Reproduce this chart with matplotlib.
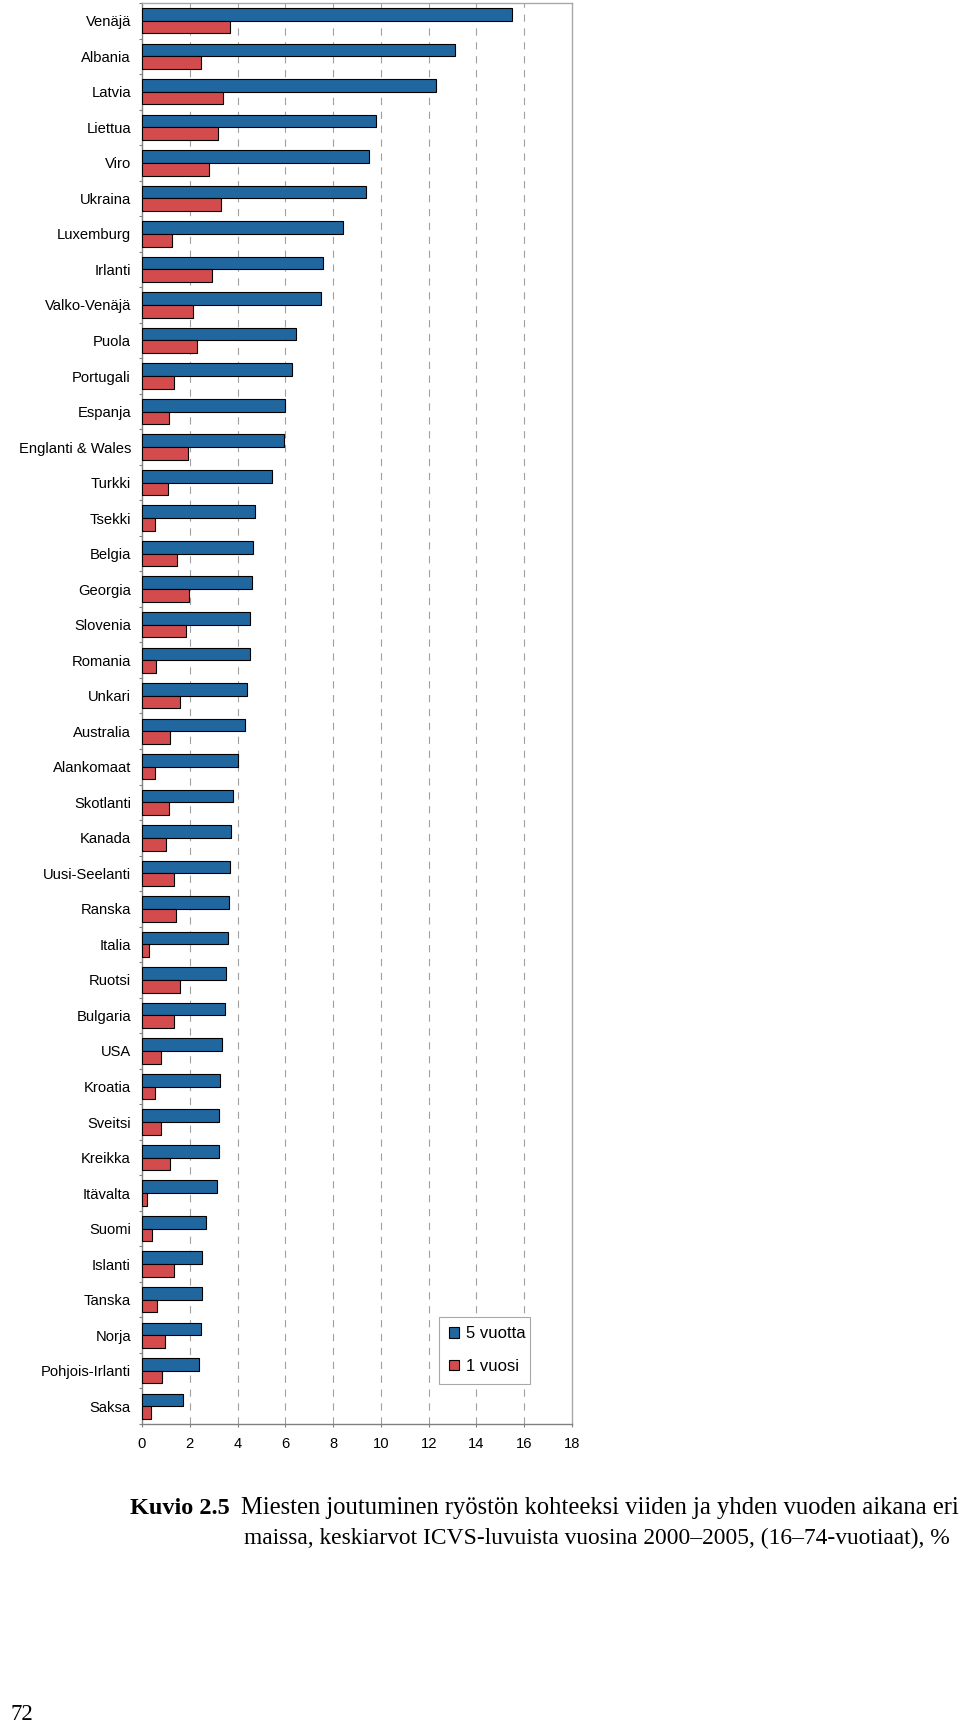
import matplotlib
matplotlib.use("Agg")
import matplotlib.pyplot as plt
import numpy as np
from matplotlib.patches import Patch

countries = ["Venäjä", "Albania", "Latvia", "Liettua", "Viro", "Ukraina", "Luxemburg",
             "Irlanti", "Valko-Venäjä", "Puola", "Portugali", "Espanja", "Englanti & Wales",
             "Turkki", "Tsekki", "Belgia", "Georgia", "Slovenia", "Romania", "Unkari",
             "Australia", "Alankomaat", "Skotlanti", "Kanada", "Uusi-Seelanti", "Ranska",
             "Italia", "Ruotsi", "Bulgaria", "USA", "Kroatia", "Sveitsi", "Kreikka",
             "Itävalta", "Suomi", "Islanti", "Tanska", "Norja", "Pohjois-Irlanti", "Saksa"]
five_years = [15.50, 13.10, 12.31, 9.80, 9.50, 9.36, 8.40, 7.56, 7.48, 6.46,
              6.26, 5.98, 5.95, 5.44, 4.74, 4.66, 4.60, 4.52, 4.52, 4.41,
              4.32, 4.01, 3.83, 3.73, 3.67, 3.64, 3.59, 3.53, 3.49, 3.36,
              3.27, 3.22, 3.22, 3.13, 2.66, 2.52, 2.52, 2.48, 2.40, 1.73]
one_year = [3.67, 2.48, 3.41, 3.18, 2.80, 3.30, 1.27, 2.94, 2.14, 2.29,
            1.32, 1.13, 1.94, 1.10, 0.54, 1.46, 1.97, 1.83, 0.59, 1.60,
            1.18, 0.54, 1.13, 0.99, 1.32, 1.43, 0.31, 1.60, 1.36, 0.81,
            0.54, 0.81, 1.18, 0.22, 0.43, 1.36, 0.62, 0.96, 0.85, 0.39]
series_labels = ["5 vuotta", "1 vuosi"]
x_ticks = [0, 2, 4, 6, 8, 10, 12, 14, 16, 18]
caption_bold = "Kuvio 2.5"
caption_line1 = "Miesten joutuminen ryöstön kohteeksi viiden ja yhden vuoden aikana eri"
caption_line2 = "maissa, keskiarvot ICVS-luvuista vuosina 2000–2005, (16–74-vuotiaat), %"
page_number = "72"

BLUE = "#21679f"
RED = "#d34b4c"

sans = ["Liberation Sans", "DejaVu Sans"]
serif = ["Liberation Serif", "DejaVu Serif"]
fs = 10.6

W, H = 960, 1726
fig = plt.figure(figsize=(W / 100, H / 100), dpi=100)
ax_left, ax_right, ax_top, ax_bottom = 142.0, 572.0, 3.0, 1424.0
ax = fig.add_axes([ax_left / W, 1 - ax_bottom / H, (ax_right - ax_left) / W, (ax_bottom - ax_top) / H])

n = len(countries)
y = np.arange(n)
bh = 0.357
ax.barh(y - bh / 2, five_years, height=bh, color=BLUE, edgecolor="black", linewidth=0.8, zorder=3)
ax.barh(y + bh / 2, one_year, height=bh, color=RED, edgecolor="black", linewidth=0.8, zorder=3)

ax.set_ylim(n - 0.5, -0.5)
ax.set_xlim(0, 18)
ax.set_xticks(x_ticks)
ax.set_xticklabels([str(t) for t in x_ticks], family=sans, fontsize=fs)
ax.set_yticks(y)
ax.set_yticklabels(countries, family=sans, fontsize=fs)
ax.set_yticks(np.arange(n + 1) - 0.5, minor=True)
ax.tick_params(axis="y", which="major", length=0, pad=8)
ax.tick_params(axis="y", which="minor", length=2.4, width=0.8, color="#808080", direction="out")
ax.tick_params(axis="x", which="major", length=2.4, width=0.8, color="#808080", direction="out", pad=7)

for t in x_ticks[1:-1]:
    ax.axvline(t, color="#a0a0a0", linewidth=0.8, linestyle=(0, (6.5, 6)), zorder=1)

for side in ["top", "right"]:
    ax.spines[side].set_color("#a8a8a8")
    ax.spines[side].set_linewidth(1.0)
for side in ["left", "bottom"]:
    ax.spines[side].set_color("#808080")
    ax.spines[side].set_linewidth(1.0)

handles = [Patch(facecolor=BLUE, edgecolor="black", linewidth=0.8),
           Patch(facecolor=RED, edgecolor="black", linewidth=0.8)]
lx0, lx1, ly0, ly1 = 439, 530, 1318, 1384
leg = ax.legend(handles, series_labels, loc="lower left",
                bbox_to_anchor=((lx0 - ax_left) / (ax_right - ax_left), (ax_bottom - ly1) / (ax_bottom - ax_top),
                                (lx1 - lx0) / (ax_right - ax_left), (ly1 - ly0) / (ax_bottom - ax_top)),
                mode="expand", prop={"family": sans, "size": 12},
                fancybox=False, framealpha=1, edgecolor="#a8a8a8",
                handlelength=0.6, handleheight=0.6, handletextpad=0.4,
                labelspacing=1.05, borderpad=0.6, borderaxespad=0)
leg.get_frame().set_linewidth(0.8)

# caption
renderer = fig.canvas.get_renderer()


def fitted_text(x, yy, s, width_px, size, **kw):
    t = fig.text(x / W, 1 - yy / H, s, family=serif, fontsize=size, ha="left", va="center", **kw)
    w = t.get_window_extent(renderer).width
    t.set_fontsize(size * width_px / w)
    return t


fig.text(130 / W, 1 - 1508 / H, caption_bold, family=serif, fontweight="bold", fontsize=17.5,
         ha="left", va="center")
fitted_text(241, 1508, caption_line1, 718, 17.5)
fitted_text(244, 1538, caption_line2, 708, 17.5)
fig.text(10 / W, 1 - 1714 / H, page_number, family=serif, fontsize=16.5, ha="left", va="center")

fig.savefig("out.png", dpi=100)
